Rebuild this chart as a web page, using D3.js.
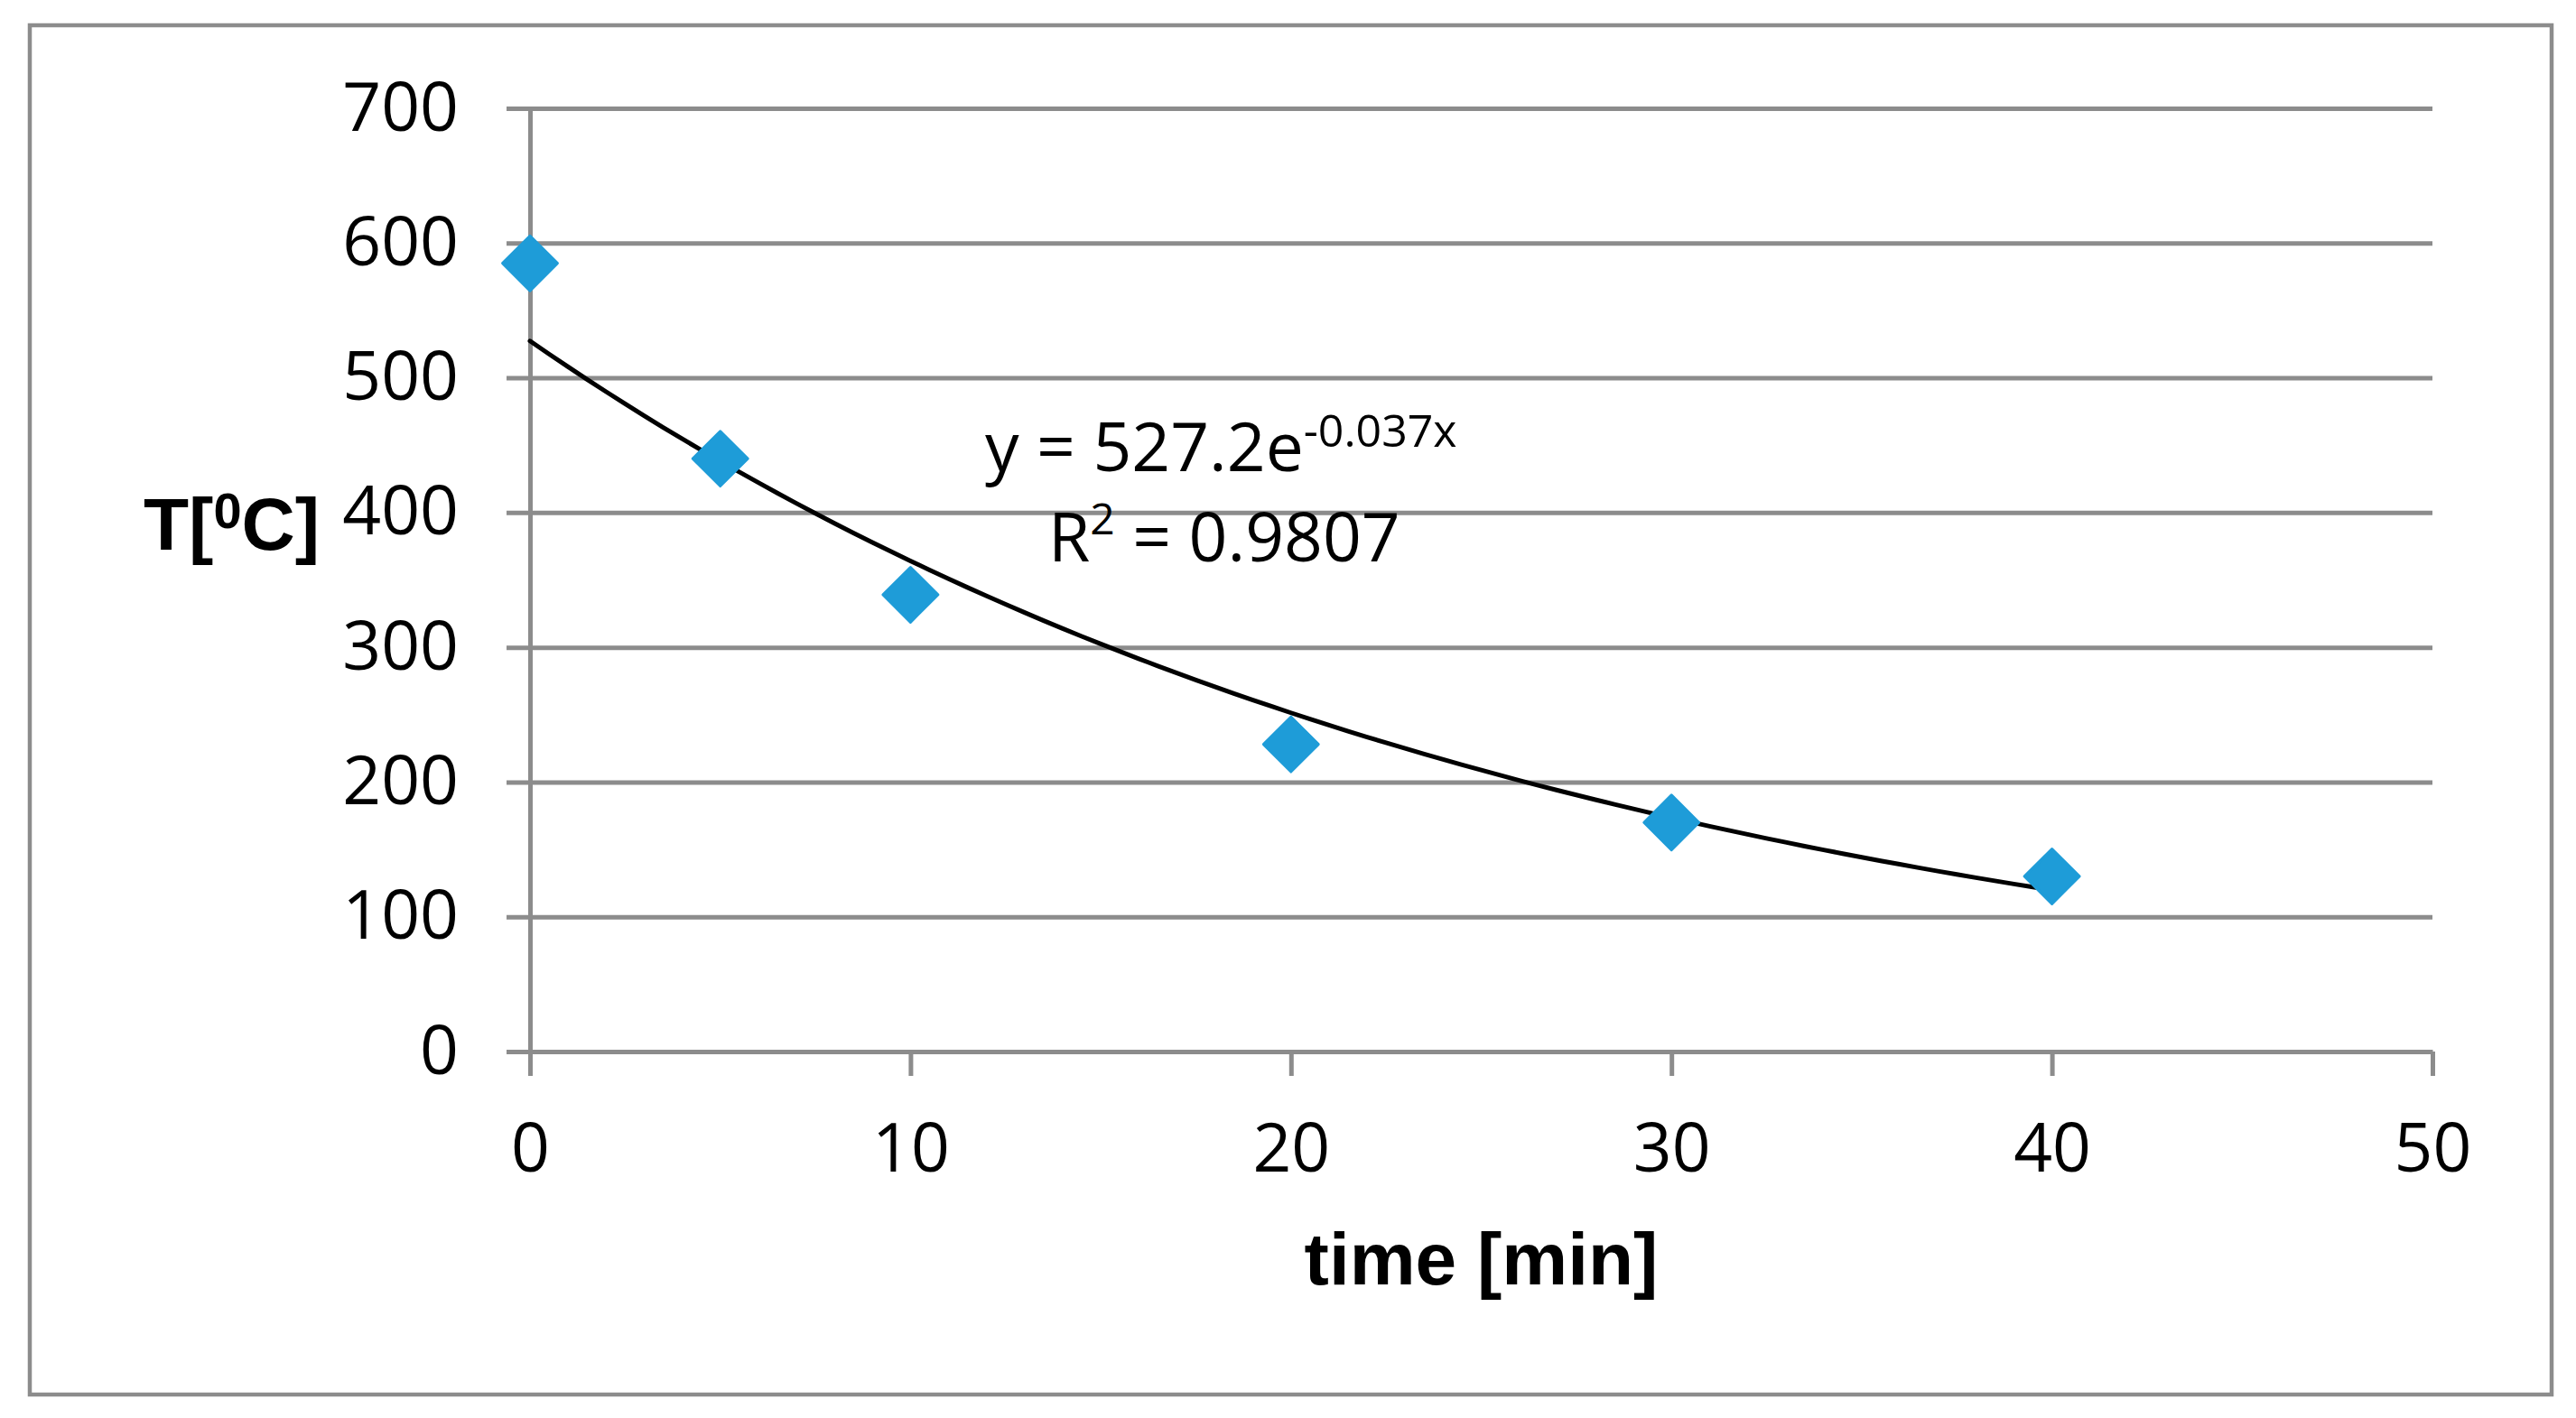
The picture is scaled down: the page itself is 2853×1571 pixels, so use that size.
<!DOCTYPE html>
<html>
<head>
<meta charset="utf-8">
<script src="https://cdnjs.cloudflare.com/ajax/libs/d3/7.8.5/d3.min.js"></script>
<style>
  body { margin: 0; background: #fff; }
  svg { display: block; }
</style>
</head>
<body>
<svg id="chart"></svg>
<script>
// cooling data
const timeMin = [0, 5, 10, 20, 30, 40];
const tempC = [585, 440, 339, 228, 170, 130];
const xTicks = [0, 10, 20, 30, 40, 50];
const yTicks = [0, 100, 200, 300, 400, 500, 600, 700];
const equationMain = 'y = 527.2e';
const equationExp = '-0.037x';
const rSquared = '0.9807';

const W = 2853, H = 1571;
const gray = '#8c8c8c';
const tickFont = '"Open Sans", "Noto Sans", sans-serif';
const titleFont = '"Liberation Sans", Arial, sans-serif';

const svg = d3.select('#chart')
  .attr('width', W)
  .attr('height', H);

// outer frame
svg.append('rect')
   .attr('x', 33).attr('y', 28)
   .attr('width', 2793).attr('height', 1517)
   .attr('fill', '#fff')
   .attr('stroke', gray)
   .attr('stroke-width', 4.5);

const x = d3.scaleLinear().domain([0, 50]).range([587, 2694]);
const y = d3.scaleLinear().domain([0, 700]).range([1165, 120]);

// Y axis with gridlines
const yAxis = svg.append('g')
  .attr('transform', `translate(${x(0)},0)`)
  .call(d3.axisLeft(y)
          .tickValues(yTicks)
          .tickSizeInner(-(x(50) - x(0)))
          .tickSizeOuter(0)
          .tickPadding(79));
yAxis.selectAll('.tick line')
     .attr('x1', -26)
     .attr('stroke', gray)
     .attr('stroke-width', 5);
yAxis.select('.domain').attr('stroke', gray).attr('stroke-width', 5);
yAxis.selectAll('.tick text')
     .attr('fill', '#000')
     .style('font-family', tickFont)
     .style('font-size', '75px');

// X axis
const xAxis = svg.append('g')
  .attr('transform', `translate(0,${y(0)})`)
  .call(d3.axisBottom(x)
          .tickValues(xTicks)
          .tickSizeInner(27)
          .tickSizeOuter(0)
          .tickPadding(53));
xAxis.selectAll('.tick line').attr('stroke', gray).attr('stroke-width', 5);
xAxis.select('.domain').attr('stroke', gray).attr('stroke-width', 5);
xAxis.selectAll('.tick text')
     .attr('fill', '#000')
     .style('font-family', tickFont)
     .style('font-size', '75px');

// exponential trendline, least squares on ln(T)
const lnT = tempC.map(v => Math.log(v));
const mx = d3.mean(timeMin), my = d3.mean(lnT);
const sxy = d3.sum(timeMin, (t, i) => (t - mx) * (lnT[i] - my));
const sxx = d3.sum(timeMin, t => (t - mx) * (t - mx));
const b = sxy / sxx;
const a = Math.exp(my - b * mx);
const fit = d3.range(0, 40.01, 0.5).map(t => [t, a * Math.exp(b * t)]);

svg.append('path')
   .datum(fit)
   .attr('fill', 'none')
   .attr('stroke', '#000')
   .attr('stroke-width', 5)
   .attr('stroke-linecap', 'round')
   .attr('d', d3.line().x(d => x(d[0])).y(d => y(d[1])));

// markers
svg.selectAll('.pt')
   .data(timeMin)
   .enter()
   .append('path')
   .attr('class', 'pt')
   .attr('d', d3.symbol(d3.symbolSquare, 1850))
   .attr('transform', (d, i) => `translate(${x(d)},${y(tempC[i])}) rotate(45)`)
   .attr('fill', '#1e9cd8')
   .attr('stroke', '#1e9cd8')
   .attr('stroke-width', 3)
   .attr('stroke-linejoin', 'round');

// trendline label
const eq = svg.append('text')
  .attr('x', 1091).attr('y', 522)
  .style('font-family', tickFont)
  .style('font-size', '75px');
eq.append('tspan').text(equationMain);
eq.append('tspan').attr('dy', -27).style('font-size', '50px').text(equationExp);

const r2 = svg.append('text')
  .attr('x', 1161).attr('y', 622)
  .style('font-family', tickFont)
  .style('font-size', '75px');
r2.append('tspan').text('R');
r2.append('tspan').attr('dy', -30).style('font-size', '48px').text('2');
r2.append('tspan').attr('dy', 30).text(' = ' + rSquared);

// axis titles
svg.append('text')
   .attr('x', (x(0) + x(50)) / 2)
   .attr('y', 1423)
   .attr('text-anchor', 'middle')
   .style('font-family', titleFont)
   .style('font-weight', 'bold')
   .style('font-size', '82px')
   .text('time [min]');

const yt = svg.append('text')
  .attr('x', 159).attr('y', 609)
  .style('font-family', titleFont)
  .style('font-weight', 'bold')
  .style('font-size', '82px');
yt.append('tspan').text('T[');
yt.append('tspan').attr('dy', -24).style('font-size', '56px').text('0');
yt.append('tspan').attr('dy', 24).text('C]');
</script>
</body>
</html>
